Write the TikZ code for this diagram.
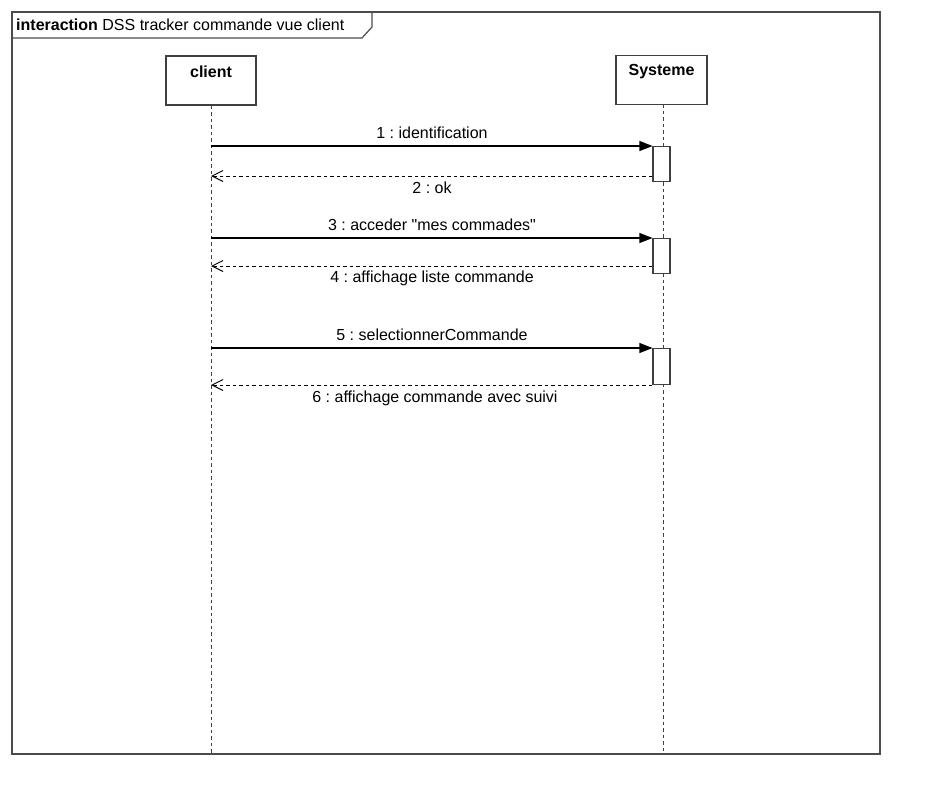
\documentclass[tikz,border=0pt]{standalone}
\usepackage{fontspec}
\setmainfont{Liberation Sans}[Ligatures=TeXOff]
\frenchspacing
\usetikzlibrary{arrows.meta,calc}
\tikzset{
  frameline/.style={draw=black!70, line width=1.2pt},
  lifebox/.style={draw=black!75, line width=1.2pt, fill=white, minimum width=90pt, minimum height=49pt, inner sep=0pt},
  lbl/.style={font=\fontsize{16}{19}\selectfont\bfseries, inner sep=0pt},
  lifeline/.style={draw=black!75, line width=0.9pt, dash pattern=on 3.5pt off 3pt},
  actbar/.style={draw=black!75, line width=1.1pt, fill=white, minimum width=17pt, inner sep=0pt},
  callmsg/.style={draw=black, line width=1.1pt, -{Triangle[length=13pt,width=10pt]}},
  replymsg/.style={draw=black, line width=1pt, dash pattern=on 3.5pt off 3pt, -{Straight Barb[length=11pt,width=11pt]}},
  msglabel/.style={font=\fontsize{16}{19}\selectfont, inner sep=0pt}
}
\begin{document}
\begin{tikzpicture}[x=1pt,y=-1pt]
\useasboundingbox (0,0) rectangle (930,806);
\fill[white] (0,0) rectangle (930,806);
% frame
\draw[frameline] (12,12) rectangle (880,754);
\draw[frameline] (12,38) -- (362,38) -- (372,27) -- (372,12);
\node[anchor=west, inner sep=0pt, font=\fontsize{16}{19}\selectfont] (title) at (16,25) {\textbf{interaction} DSS tracker commande vue client};
% lifelines
\node[lifebox, minimum width=90pt] (client) at (211,80.5) {};
\node[lbl] (clientlbl) at (211,72) {client};
\node[lifebox, minimum width=91pt] (sys) at (661.5,80) {};
\node[lbl] (syslbl) at (661.5,72) {Systeme};
\coordinate (cend) at (211,754);
\coordinate (send) at (663,754);
\draw[lifeline] (client.south) -- (cend);
\draw[lifeline] (663,104) -- (send);
% activation bars
\node[actbar, minimum height=35pt, anchor=north] (a1) at (661.5,146) {};
\node[actbar, minimum height=35pt, anchor=north] (a2) at (661.5,238) {};
\node[actbar, minimum height=36pt, anchor=north] (a3) at (661.5,348) {};
% message coordinates on client lifeline
\coordinate (c1) at (211,146);
\coordinate (c2) at (211,176);
\coordinate (c3) at (211,238);
\coordinate (c4) at (211,266);
\coordinate (c5) at (211,348);
\coordinate (c6) at (211,385);
% messages
\draw[callmsg] (c1) -- (a1.north west);
\node[msglabel] (m1) at (432,133) {1 : identification};
\draw[replymsg] (a1.west |- c2) -- (c2);
\node[msglabel] (m2) at (432,188) {2 : ok};
\draw[callmsg] (c3) -- (a2.north west);
\node[msglabel] (m3) at (432,225) {3 : acceder "mes commades"};
\draw[replymsg] (a2.west |- c4) -- (c4);
\node[msglabel] (m4) at (432,278) {4 : affichage liste commande};
\draw[callmsg] (c5) -- (a3.north west);
\node[msglabel] (m5) at (432,335) {5 : selectionnerCommande};
\draw[replymsg] (a3.west |- c6) -- (c6);
\node[msglabel] (m6) at (435,398) {6 : affichage commande avec suivi};
\end{tikzpicture}
\end{document}
